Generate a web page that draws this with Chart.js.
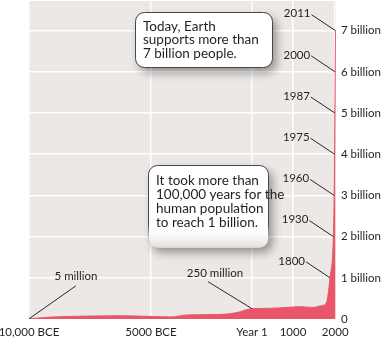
<!DOCTYPE html>
<html>
<head>
<meta charset="utf-8">
<script src="https://cdn.jsdelivr.net/npm/chart.js@4/dist/chart.umd.min.js"></script>
<style>
  html, body { margin: 0; padding: 0; background: #ffffff; }
  #wrap { width: 381px; height: 341px; }
</style>
</head>
<body>
<div id="wrap"><canvas id="chart" width="381" height="341"></canvas></div>
<script>
// World population over the last 12,000 years (billions of people).
const EARLY_YEARS = [-10000, -9000, -7600, -6300, -4900, -4000, -3200, -1600, -800, 1, 450, 850, 1170, 1490, 1600, 1700, 1750];
const EARLY_POP   = [0.005, 0.05, 0.07, 0.08, 0.06, 0.05, 0.10, 0.11, 0.15, 0.25, 0.26, 0.28, 0.30, 0.28, 0.31, 0.33, 0.40];

// Each further billion, with the year it was reached.
const BILLION_YEARS = [1800, 1930, 1960, 1975, 1987, 2000, 2011];
const BILLION_POP   = [1, 2, 3, 4, 5, 6, 7];

// Values called out along the bottom of the curve.
const CALLOUT_YEARS  = [-10000, 1];
const CALLOUT_POP    = [0.005, 0.25];
const CALLOUT_LABELS = ['5 million', '250 million'];

// Axis labels.
const X_TICK_YEARS  = [-10000, -5000, 1, 1000, 2000];
const X_TICK_LABELS = ['10,000 BCE', '5000 BCE', 'Year 1', '1000', '2000'];
const Y_TICKS = [0, 1, 2, 3, 4, 5, 6, 7];

// Notes placed on the plot.
const NOTE_TODAY = ['Today, Earth', 'supports more than', '7 billion people.'];
const NOTE_FIRST = ['It took more than', '100,000 years for the', 'human population', 'to reach 1 billion.'];

// The time axis is drawn in stretches: older periods are squeezed,
// and the industrial era is pressed against the right edge.
const AXIS_YEARS = [-10000, -5000, 1, 1000, 1700, 1800, 2011];
const AXIS_UNITS = [0, 122, 223, 264, 294, 301, 306.5];
function warp(year) {
  let i = 0;
  while (i < AXIS_YEARS.length - 2 && year > AXIS_YEARS[i + 1]) i++;
  const y0 = AXIS_YEARS[i], y1 = AXIS_YEARS[i + 1];
  const u0 = AXIS_UNITS[i], u1 = AXIS_UNITS[i + 1];
  return u0 + (year - y0) * (u1 - u0) / (y1 - y0);
}

const YEARS = EARLY_YEARS.concat(BILLION_YEARS);
const POP = EARLY_POP.concat(BILLION_POP);
const points = YEARS.map((yr, i) => ({ x: warp(yr), y: POP[i] }));

const FONT = 'Lato, "Open Sans", sans-serif';
const INK = '#231f20';
const RED = '#e9566a';
const PLOT_BG = '#ebe8e5';

const plotBackground = {
  id: 'plotBackground',
  beforeDraw(chart) {
    const { ctx, chartArea: a } = chart;
    ctx.save();
    ctx.fillStyle = PLOT_BG;
    ctx.fillRect(a.left, a.top, a.right - a.left, a.bottom - a.top);
    ctx.restore();
  }
};

// A white note card with a soft drop shadow; when `fade` is set the
// lower part of the card dissolves instead of ending in a hard edge.
function note(ctx, x, y, w, h, lines, first, lineH, fade) {
  const r = 9;
  ctx.save();
  ctx.beginPath();
  ctx.roundRect(x, y, w, h, r);
  ctx.shadowColor = 'rgba(0,0,0,0.38)';
  ctx.shadowBlur = 10;
  ctx.shadowOffsetX = 4;
  ctx.shadowOffsetY = 5;
  ctx.fillStyle = '#ffffff';
  ctx.fill();
  ctx.shadowColor = 'transparent';
  ctx.lineWidth = 1;
  if (fade) {
    const g = ctx.createLinearGradient(0, y, 0, y + h);
    g.addColorStop(0, '#4a4546');
    g.addColorStop(0.7, '#4a4546');
    g.addColorStop(1, 'rgba(74,69,70,0)');
    ctx.strokeStyle = g;
    ctx.stroke();
    const f = ctx.createLinearGradient(0, y + h * 0.72, 0, y + h);
    f.addColorStop(0, 'rgba(255,255,255,0)');
    f.addColorStop(1, 'rgba(225,222,220,1)');
    ctx.fillStyle = f;
    ctx.fill();
  } else {
    ctx.strokeStyle = '#4a4546';
    ctx.stroke();
  }
  ctx.fillStyle = INK;
  ctx.font = '13.5px ' + FONT;
  ctx.textAlign = 'left';
  ctx.textBaseline = 'middle';
  lines.forEach((t, i) => ctx.fillText(t, x + 7.5, y + first + i * lineH));
  ctx.restore();
}

const annotations = {
  id: 'annotations',
  afterDatasetsDraw(chart) {
    const { ctx } = chart;
    const xs = chart.scales.x, ys = chart.scales.y;
    ctx.save();
    ctx.strokeStyle = '#2b2728';
    ctx.lineWidth = 1;
    ctx.fillStyle = INK;
    ctx.font = '11.5px ' + FONT;
    ctx.textBaseline = 'middle';

    // Year each billion was reached, with a leader to the curve.
    BILLION_YEARS.forEach((yr, i) => {
      const px = xs.getPixelForValue(warp(yr));
      const py = ys.getPixelForValue(BILLION_POP[i]);
      ctx.beginPath();
      ctx.moveTo(px - 24, py - 16);
      ctx.lineTo(px, py);
      ctx.stroke();
      ctx.textAlign = 'right';
      ctx.fillText(String(yr), px - 25, py - 17);
    });

    // Population callouts near the baseline.
    const offs = [[47, -33, 47, -42], [-44, -27, -37, -35]];
    CALLOUT_YEARS.forEach((yr, i) => {
      const px = xs.getPixelForValue(warp(yr));
      const py = ys.getPixelForValue(CALLOUT_POP[i]);
      const o = offs[i];
      ctx.beginPath();
      ctx.moveTo(px, py);
      ctx.lineTo(px + o[0], py + o[1]);
      ctx.stroke();
      ctx.textAlign = 'center';
      ctx.fillText(CALLOUT_LABELS[i], px + o[2], py + o[3]);
    });
    ctx.restore();

    note(ctx, 135.5, 12.5, 137, 55, NOTE_TODAY, 14, 13.5, false);
    note(ctx, 148.5, 165.5, 120, 82, NOTE_FIRST, 15.5, 13.8, true);
  }
};

new Chart(document.getElementById('chart'), {
  type: 'line',
  data: {
    datasets: [{
      data: points,
      fill: 'origin',
      backgroundColor: RED,
      borderColor: RED,
      borderWidth: 1,
      pointRadius: 0,
      cubicInterpolationMode: 'monotone'
    }]
  },
  options: {
    responsive: false,
    animation: false,
    devicePixelRatio: 1,
    layout: { padding: { left: 29, top: 1, right: 0, bottom: 0 } },
    plugins: { legend: { display: false }, tooltip: { enabled: false } },
    scales: {
      x: {
        type: 'linear',
        min: 0,
        max: 307,
        afterBuildTicks(axis) { axis.ticks = X_TICK_YEARS.map(y => ({ value: warp(y) })); },
        afterFit(axis) {
          axis.height = 22;
          axis.paddingLeft = 0;
          axis.paddingRight = 0;
        },
        ticks: {
          autoSkip: false,
          maxRotation: 0,
          padding: 6,
          color: INK,
          font: { family: FONT, size: 11.5 },
          callback: (v, i) => X_TICK_LABELS[i]
        },
        grid: { color: '#ffffff', lineWidth: 1.5, drawTicks: false },
        border: { display: false }
      },
      y: {
        position: 'right',
        min: 0,
        max: 7.72,
        afterBuildTicks(axis) { axis.ticks = Y_TICKS.map(v => ({ value: v })); },
        afterFit(axis) {
          axis.width = 45;
          axis.paddingTop = 0;
          axis.paddingBottom = 0;
        },
        ticks: {
          padding: 5,
          color: INK,
          font: { family: FONT, size: 11.5 },
          callback: v => (v === 0 ? '0' : v + ' billion')
        },
        grid: { color: '#ffffff', lineWidth: 1.5, drawTicks: false },
        border: { display: false }
      }
    }
  },
  plugins: [plotBackground, annotations]
});
</script>
</body>
</html>
